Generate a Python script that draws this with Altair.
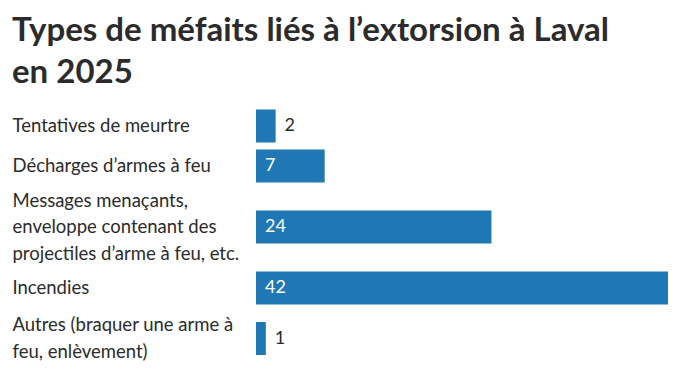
import altair as alt
import pandas as pd

categories = [
    "Tentatives de meurtre",
    "Décharges d’armes à feu",
    "Messages menaçants,|enveloppe contenant des|projectiles d’arme à feu, etc.",
    "Incendies",
    "Autres (braquer une arme à|feu, enlèvement)",
]
values = [2, 7, 24, 42, 1]
title_lines = ["Types de méfaits liés à l’extorsion à Laval", "en 2025"]

df = pd.DataFrame({"cat": categories, "value": values})
df["order"] = range(len(df))

FONT = "Lato"
BLUE = "#1f77b4"
TEXT = "#2b2b2b"
XMAX = max(values)
LINE_H = 26.5

panels = []
for i, cat in enumerate(categories):
    nlines = cat.count("|") + 1
    h = 19 + 21 * nlines
    base = alt.Chart(df).transform_filter(alt.datum.order == i)
    y = alt.Y(
        "cat:N",
        title=None,
        scale=alt.Scale(paddingInner=0, paddingOuter=0),
        axis=alt.Axis(
            domain=False,
            ticks=False,
            labelAlign="left",
            labelBaseline="middle",
            labelPadding=244,
            labelOffset=-(nlines - 1) * LINE_H / 2,
            labelFont=FONT,
            labelFontSize=18.5,
            labelColor=TEXT,
            labelLineHeight=LINE_H,
            labelLimit=0,
            labelExpr="split(datum.label, '|')",
        ),
    )
    x = alt.X(
        "value:Q",
        axis=None,
        scale=alt.Scale(domain=[0, XMAX], nice=False),
    )
    bars = base.mark_bar(size=33, color=BLUE).encode(x=x, y=y)
    labels = (
        base.transform_calculate(
            pos="datum.value >= 5 ? 0 : datum.value",
            inside="datum.value >= 5",
        )
        .mark_text(align="left", baseline="middle", dx=9, font=FONT, fontSize=18)
        .encode(
            x=alt.X("pos:Q", axis=None, scale=alt.Scale(domain=[0, XMAX], nice=False)),
            y=y,
            text="value:Q",
            color=alt.condition("datum.inside", alt.value("white"), alt.value(TEXT)),
        )
    )
    panels.append(alt.layer(bars, labels).properties(width=412, height=h))

chart = (
    alt.vconcat(*panels, spacing=0)
    .properties(
        title=alt.TitleParams(
            text=title_lines,
            anchor="start",
            font=FONT,
            fontSize=33,
            fontWeight="bold",
            color=TEXT,
            lineHeight=42,
            offset=16,
        ),
        padding={"left": 4, "top": 7, "right": 4, "bottom": 0},
    )
    .configure_view(stroke=None)
)

chart.save("out.html", embed_options={"renderer": "svg", "actions": False})
